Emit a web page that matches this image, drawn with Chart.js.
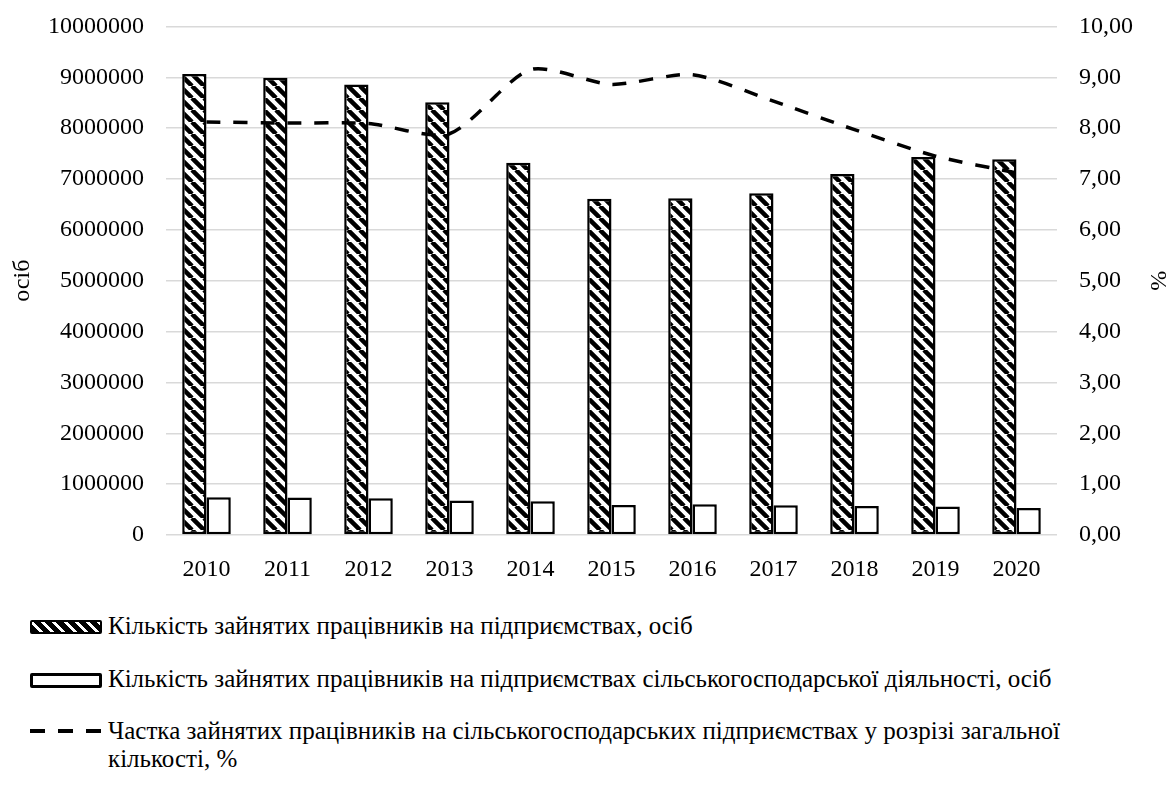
<!DOCTYPE html>
<html lang="uk">
<head>
<meta charset="utf-8">
<title>Зайнятість на підприємствах</title>
<script src="https://cdn.jsdelivr.net/npm/chart.js@4.4.1/dist/chart.umd.min.js"></script>
<style>
  html, body { margin: 0; padding: 0; background: #fff; }
  #wrap { position: relative; width: 1172px; height: 785px; color: #000; overflow: hidden; }
  #chartBox { position: absolute; left: 0; top: -10px; width: 1172px; height: 610px; }
  .lg { position: absolute; left: 0; display: flex; align-items: flex-start;
        font-family: "Liberation Serif", serif; font-size: 25px; line-height: 28px; }
  .lg .sym { flex: 0 0 auto; margin-left: 30px; margin-right: 6px; }
  .sym-hatch { width: 68px; height: 10px; border: 2px solid #000; border-radius: 2px;
               background: repeating-linear-gradient(45deg, #000 0 5px, #fff 5px 8px); margin-top: 8px; }
  .sym-plain { width: 66px; height: 9px; border: 3px solid #000; border-radius: 2px; background: #fff; margin-top: 8px; }
  .sym-dash  { width: 72px; height: 4px; margin-top: 12px;
               background: repeating-linear-gradient(90deg, #000 0 15px, transparent 15px 28px); }
  .lg .txt { width: 965px; }
</style>
</head>
<body>
<div id="wrap">
  <div id="chartBox"><canvas id="mainChart" width="1172" height="610"></canvas></div>
  <div class="lg" id="lg0" style="top:612px"><div class="sym sym-hatch"></div><div class="txt"></div></div>
  <div class="lg" id="lg1" style="top:665px"><div class="sym sym-plain"></div><div class="txt"></div></div>
  <div class="lg" id="lg2" style="top:717px"><div class="sym sym-dash"></div><div class="txt"></div></div>
</div>
<script>
// ── DATA ─────────────────────────────────────────────────
const YEARS = ["2010", "2011", "2012", "2013", "2014", "2015", "2016", "2017", "2018", "2019", "2020"];

const TOTAL_EMPLOYED = [9065000, 8990000, 8860000, 8510000, 7320000, 6610000, 6620000, 6720000, 7100000, 7430000, 7390000];
const AGRI_EMPLOYED  = [744000, 737000, 724000, 678000, 665000, 592000, 605000, 586000, 572000, 560000, 533000];
const AGRI_SHARE     = [8.12, 8.10, 8.09, 7.89, 9.15, 8.86, 9.05, 8.53, 7.97, 7.45, 7.12];

const SERIES_LABELS = [
  "Кількість зайнятих працівників на підприємствах, осіб",
  "Кількість зайнятих працівників на підприємствах сільськогосподарської діяльності, осіб",
  "Частка зайнятих працівників на сільськогосподарських підприємствах у розрізі загальної кількості, %",
];

const LEFT_TITLE  = "осіб";
const RIGHT_TITLE = "%";

// ── STYLE ────────────────────────────────────────────────
const FONT_FAMILY = "'Liberation Serif', 'Times New Roman', serif";
const GRID_COLOR  = "#d9d9d9";

function makeHatch() {
  const size = 12;
  const c = document.createElement("canvas");
  c.width = size; c.height = size;
  const g = c.getContext("2d");
  g.fillStyle = "#fff";
  g.fillRect(0, 0, size, size);
  g.strokeStyle = "#000";
  g.lineWidth = 4.5;
  g.beginPath();
  for (const k of [-size, 0, size]) {
    g.moveTo(k, 0);
    g.lineTo(k + size, size);
  }
  g.stroke();
  return g.createPattern(c, "repeat");
}

// ── LEGEND (html) ────────────────────────────────────────
SERIES_LABELS.forEach((txt, i) => {
  document.querySelector("#lg" + i + " .txt").textContent = txt;
});

// ── CHART ────────────────────────────────────────────────
const ctx = document.getElementById("mainChart");
const hatch = makeHatch();

new Chart(ctx, {
  type: "bar",
  data: {
    labels: YEARS,
    datasets: [
      {
        type:            "line",
        label:           SERIES_LABELS[2],
        data:            AGRI_SHARE,
        yAxisID:         "y1",
        borderColor:     "#000",
        borderWidth:     3.5,
        borderDash:      [14, 13],
        pointRadius:     0,
        tension:         0.25,
        fill:            false,
        order:           0,
      },
      {
        label:           SERIES_LABELS[0],
        data:            TOTAL_EMPLOYED,
        yAxisID:         "y",
        backgroundColor: hatch,
        borderColor:     "#000",
        borderWidth:     2.5,
        borderSkipped:   false,
        order:           1,
      },
      {
        label:           SERIES_LABELS[1],
        data:            AGRI_EMPLOYED,
        yAxisID:         "y",
        backgroundColor: "#fff",
        borderColor:     "#000",
        borderWidth:     2.5,
        borderSkipped:   false,
        order:           2,
      },
    ],
  },
  options: {
    responsive:          false,
    animation:           false,
    devicePixelRatio:    1,
    datasets: { bar: { categoryPercentage: 0.6, barPercentage: 1.0 } },
    layout: { padding: { top: 0, bottom: 0, left: 0, right: 0 } },
    plugins: {
      legend:  { display: false },
      tooltip: { enabled: false },
    },
    scales: {
      x: {
        grid:   { display: false },
        border: { display: false },
        ticks:  { color: "#000", font: { family: FONT_FAMILY, size: 24 }, padding: 12, maxRotation: 0 },
        afterFit(scale) { scale.height = 65; },
      },
      y: {
        position: "left",
        min: 0, max: 10000000,
        grid:   { color: GRID_COLOR, lineWidth: 1.5, drawTicks: false },
        border: { display: false },
        ticks:  {
          stepSize: 1000000, color: "#000", font: { family: FONT_FAMILY, size: 24 }, padding: 22,
          callback: v => String(v),
        },
        title:  { display: true, text: LEFT_TITLE, color: "#000", font: { family: FONT_FAMILY, size: 24 }, padding: { top: 8, bottom: 0 } },
        afterFit(scale) { scale.width = 166; },
      },
      y1: {
        position: "right",
        min: 0, max: 10,
        grid:   { display: false, drawTicks: false },
        border: { display: false },
        ticks:  {
          stepSize: 1, color: "#000", font: { family: FONT_FAMILY, size: 24 }, padding: 22,
          callback: v => v.toFixed(2).replace(".", ","),
        },
        title:  { display: true, text: RIGHT_TITLE, color: "#000", font: { family: FONT_FAMILY, size: 24 }, padding: { top: 0, bottom: 0 } },
        afterFit(scale) { scale.width = 115; },
      },
    },
  },
});
</script>
</body>
</html>
